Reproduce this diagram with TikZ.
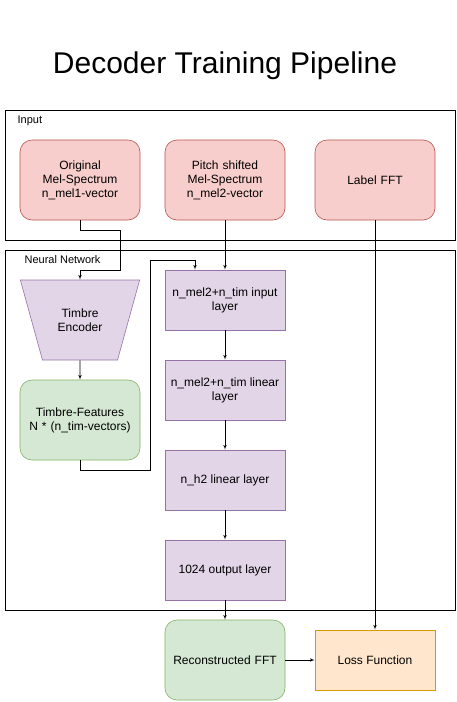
\documentclass[tikz,border=0pt]{standalone}
\usepackage{fontspec}
\setmainfont{Liberation Sans}
\usetikzlibrary{arrows,shapes}
\definecolor{redfill}{HTML}{F8CECC}
\definecolor{reddraw}{HTML}{B85450}
\definecolor{purplefill}{HTML}{E1D5E7}
\definecolor{purpledraw}{HTML}{9673A6}
\definecolor{greenfill}{HTML}{D5E8D4}
\definecolor{greendraw}{HTML}{82B366}
\definecolor{orangefill}{HTML}{FFE6CC}
\definecolor{orangedraw}{HTML}{D79B00}
\tikzstyle{source} = [draw=reddraw, fill=redfill, rectangle, rounded corners=12pt, minimum height=80pt, minimum width=120pt, text width=110pt, align=center]
\tikzstyle{layer} = [draw=purpledraw, fill=purplefill, rectangle, minimum height=60pt, minimum width=120pt, inner xsep=1pt, align=center]
\tikzstyle{feature} = [draw=greendraw, fill=greenfill, rectangle, rounded corners=12pt, minimum height=80pt, minimum width=120pt, text width=112pt, align=center]
\tikzstyle{loss} = [draw=orangedraw, fill=orangefill, rectangle, minimum height=60pt, minimum width=120pt, align=center]
\tikzstyle{encoder} = [draw=purpledraw, fill=purplefill, trapezium, shape border rotate=180, trapezium angle=60, trapezium stretches=true, minimum height=80pt, minimum width=120pt, inner sep=0pt, align=center]
\tikzstyle{frame} = [draw, thin]

\begin{document}
\begin{tikzpicture}[x=1pt, y=1pt, node distance=90pt, >=latex', semithick, font=\fontsize{12}{14}\selectfont]
    \useasboundingbox (0,0) rectangle (457,-702);
    \node (title) at (225,-66) {\fontsize{30}{34}\selectfont Decoder Training Pipeline};

    % the two frames
    \draw[frame] (5,-110) rectangle (455,-240);
    \node[anchor=west, font=\fontsize{11}{13}\selectfont] (inputlbl) at (14,-121) {Input};
    \draw[frame] (5,-250) rectangle (455,-610);
    \node[anchor=west, font=\fontsize{11}{13}\selectfont] (netlbl) at (21,-260) {Neural Network};

    % input row
    \node [source] (orig) at (80,-180) {Original\\Mel-Spectrum\\n\_mel1-vector};
    \node [source] (pitch) at (225,-180) {Pitch shifted\\Mel-Spectrum\\n\_mel2-vector};
    \node [source] (label) at (375,-180) {Label FFT};

    % timbre branch
    \node [encoder] (enc) at (80,-320) {Timbre\\Encoder};
    \node [feature] (feat) at (80,-420) {Timbre-Features\\N * (n\_tim-vectors)};

    % layer chain
    \node [layer] (inlayer) at (225,-300) {n\_mel2+n\_tim input\\layer};
    \node [layer, below of=inlayer] (linlayer) {n\_mel2+n\_tim linear\\layer};
    \node [layer, below of=linlayer] (hlayer) {n\_h2 linear layer};
    \node [layer, below of=hlayer] (outlayer) {1024 output layer};
    \node [feature, minimum height=80pt, below of=outlayer] (recon) {Reconstructed FFT};
    \node [loss] (lossfn) at (375,-660) {Loss Function};

    \draw [->] (orig.south) -- ++(0,-10) -| (120,-270) -| (enc.north);
    \draw [->] (pitch) -- (inlayer);
    \draw [->] (enc) -- (feat);
    \draw [->] (feat.south) -- ++(0,-10) -| (150,-260) -| ([xshift=-30pt]inlayer.north);
    \draw [->] (inlayer) -- (linlayer);
    \draw [->] (linlayer) -- (hlayer);
    \draw [->] (hlayer) -- (outlayer);
    \draw [->] (outlayer) -- (recon);
    \draw [->] (label) -- (lossfn);
    \draw [->] (recon) -- (lossfn);
\end{tikzpicture}
\end{document}
